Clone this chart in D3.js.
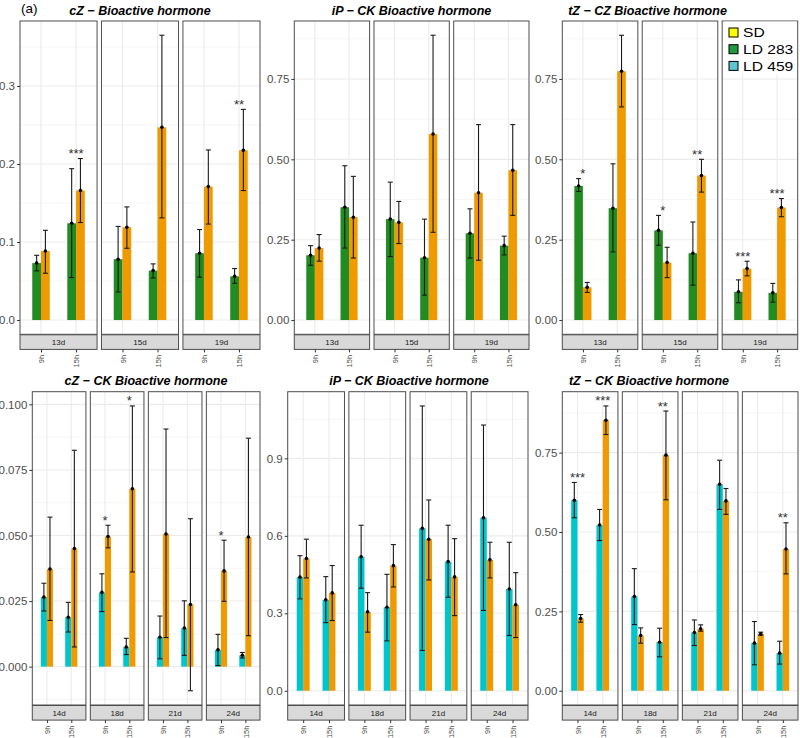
<!DOCTYPE html>
<html>
<head>
<meta charset="utf-8">
<script src="https://cdn.jsdelivr.net/npm/d3@7"></script>
<style>
  body { margin: 0; background: #fff; }
  svg { display: block; font-family: Arial, "Liberation Sans", sans-serif; }
</style>
</head>
<body>
<svg id="fig" width="800" height="738"></svg>
<script>
// ---- data ----
const times = ["9h", "15h"];
const daysTop = ["13d", "15d", "19d"];
const daysBottom = ["14d", "18d", "21d", "24d"];

// rows: day, time, group, mean, low, high
const cZBio = [
  ["13d", "9h", "LD 283", 0.073, 0.063, 0.083],
  ["13d", "9h", "SD", 0.0885, 0.060, 0.115],
  ["13d", "15h", "LD 283", 0.124, 0.0545, 0.194],
  ["13d", "15h", "SD", 0.166, 0.125, 0.207],
  ["15d", "9h", "LD 283", 0.078, 0.036, 0.120],
  ["15d", "9h", "SD", 0.119, 0.092, 0.145],
  ["15d", "15h", "LD 283", 0.0634, 0.054, 0.072],
  ["15d", "15h", "SD", 0.247, 0.131, 0.365],
  ["19d", "9h", "LD 283", 0.0856, 0.055, 0.116],
  ["19d", "9h", "SD", 0.171, 0.123, 0.218],
  ["19d", "15h", "LD 283", 0.056, 0.047, 0.066],
  ["19d", "15h", "SD", 0.2175, 0.166, 0.270]
];
const cZBioStars = [["13d", "15h", "***"], ["19d", "15h", "**"]];

const iPBio = [
  ["13d", "9h", "LD 283", 0.2016, 0.1705, 0.2315],
  ["13d", "9h", "SD", 0.224, 0.183, 0.266],
  ["13d", "15h", "LD 283", 0.351, 0.224, 0.480],
  ["13d", "15h", "SD", 0.320, 0.193, 0.447],
  ["15d", "9h", "LD 283", 0.314, 0.1975, 0.429],
  ["15d", "9h", "SD", 0.304, 0.238, 0.369],
  ["15d", "15h", "LD 283", 0.194, 0.0775, 0.314],
  ["15d", "15h", "SD", 0.579, 0.273, 0.886],
  ["19d", "9h", "LD 283", 0.270, 0.193, 0.346],
  ["19d", "9h", "SD", 0.396, 0.186, 0.608],
  ["19d", "15h", "LD 283", 0.2315, 0.2025, 0.261],
  ["19d", "15h", "SD", 0.466, 0.3256, 0.608]
];
const iPBioStars = [];

const tZBio = [
  ["13d", "9h", "LD 283", 0.417, 0.400, 0.440],
  ["13d", "9h", "SD", 0.102, 0.086, 0.117],
  ["13d", "15h", "LD 283", 0.348, 0.212, 0.486],
  ["13d", "15h", "SD", 0.774, 0.663, 0.886],
  ["15d", "9h", "LD 283", 0.279, 0.2326, 0.3256],
  ["15d", "9h", "SD", 0.179, 0.132, 0.2264],
  ["15d", "15h", "LD 283", 0.208, 0.1085, 0.305],
  ["15d", "15h", "SD", 0.4496, 0.398, 0.500],
  ["19d", "9h", "LD 283", 0.0878, 0.0537, 0.125],
  ["19d", "9h", "SD", 0.160, 0.1375, 0.183],
  ["19d", "15h", "LD 283", 0.0847, 0.0558, 0.114],
  ["19d", "15h", "SD", 0.350, 0.3215, 0.378]
];
const tZBioStars = [["13d", "9h", "*"], ["15d", "9h", "*"], ["15d", "15h", "**"],
                    ["19d", "9h", "***"], ["19d", "15h", "***"]];

const cZCK = [
  ["14d", "9h", "LD 459", 0.0265, 0.0212, 0.0318],
  ["14d", "9h", "SD", 0.0372, 0.0176, 0.057],
  ["14d", "15h", "LD 459", 0.0188, 0.0132, 0.0245],
  ["14d", "15h", "SD", 0.045, 0.0075, 0.0825],
  ["18d", "9h", "LD 459", 0.0283, 0.021, 0.0354],
  ["18d", "9h", "SD", 0.0496, 0.0453, 0.0539],
  ["18d", "15h", "LD 459", 0.0075, 0.0046, 0.0108],
  ["18d", "15h", "SD", 0.0678, 0.0361, 0.0994],
  ["21d", "9h", "LD 459", 0.0112, 0.003, 0.0193],
  ["21d", "9h", "SD", 0.0506, 0.0111, 0.0906],
  ["21d", "15h", "LD 459", 0.0147, 0.0043, 0.0251],
  ["21d", "15h", "SD", 0.0237, -0.0092, 0.0564],
  ["24d", "9h", "LD 459", 0.0064, 0.0004, 0.0123],
  ["24d", "9h", "SD", 0.0365, 0.0249, 0.0482],
  ["24d", "15h", "LD 459", 0.0043, 0.0033, 0.0054],
  ["24d", "15h", "SD", 0.0494, 0.0118, 0.0871]
];
const cZCKStars = [["18d", "9h", "*"], ["18d", "15h", "*"], ["24d", "9h", "*"]];

const iPCK = [
  ["14d", "9h", "LD 459", 0.440, 0.356, 0.523],
  ["14d", "9h", "SD", 0.512, 0.437, 0.587],
  ["14d", "15h", "LD 459", 0.352, 0.264, 0.442],
  ["14d", "15h", "SD", 0.379, 0.272, 0.485],
  ["18d", "9h", "LD 459", 0.519, 0.397, 0.641],
  ["18d", "9h", "SD", 0.3055, 0.227, 0.380],
  ["18d", "15h", "LD 459", 0.3236, 0.1933, 0.451],
  ["18d", "15h", "SD", 0.4845, 0.402, 0.566],
  ["21d", "9h", "LD 459", 0.629, 0.156, 1.103],
  ["21d", "9h", "SD", 0.587, 0.429, 0.739],
  ["21d", "15h", "LD 459", 0.500, 0.362, 0.641],
  ["21d", "15h", "SD", 0.441, 0.291, 0.589],
  ["24d", "9h", "LD 459", 0.670, 0.311, 1.029],
  ["24d", "9h", "SD", 0.507, 0.437, 0.575],
  ["24d", "15h", "LD 459", 0.394, 0.214, 0.575],
  ["24d", "15h", "SD", 0.333, 0.206, 0.4575]
];
const iPCKStars = [];

const tZCK = [
  ["14d", "9h", "LD 459", 0.600, 0.545, 0.656],
  ["14d", "9h", "SD", 0.2275, 0.216, 0.240],
  ["14d", "15h", "LD 459", 0.522, 0.473, 0.571],
  ["14d", "15h", "SD", 0.852, 0.807, 0.897],
  ["18d", "9h", "LD 459", 0.2966, 0.2085, 0.3846],
  ["18d", "9h", "SD", 0.174, 0.150, 0.198],
  ["18d", "15h", "LD 459", 0.153, 0.107, 0.197],
  ["18d", "15h", "SD", 0.742, 0.6016, 0.881],
  ["21d", "9h", "LD 459", 0.1834, 0.1425, 0.223],
  ["21d", "9h", "SD", 0.195, 0.1877, 0.2075],
  ["21d", "15h", "LD 459", 0.650, 0.571, 0.726],
  ["21d", "15h", "SD", 0.598, 0.5556, 0.637],
  ["24d", "9h", "LD 459", 0.150, 0.0818, 0.218],
  ["24d", "9h", "SD", 0.179, 0.175, 0.1845],
  ["24d", "15h", "LD 459", 0.1185, 0.084, 0.156],
  ["24d", "15h", "SD", 0.4465, 0.368, 0.529]
];
const tZCKStars = [["14d", "9h", "***"], ["14d", "15h", "***"], ["18d", "15h", "**"], ["24d", "15h", "**"]];

const ticks01 = [0, 0.1, 0.2, 0.3];
const ticks025 = [0, 0.25, 0.5, 0.75];
const ticks0025 = [0, 0.025, 0.05, 0.075, 0.1];
const ticks03 = [0, 0.3, 0.6, 0.9];

const legendLabels = ["SD", "LD 283", "LD 459"];
const legendColors = ["#FFFF00", "#1E9A3C", "#5FC3D0"];

// ---- drawing ----
const svg = d3.select("#fig");
const fill = d3.scaleOrdinal()
  .domain(["SD", "LD 283", "LD 459"])
  .range(["#EE9A00", "#228B22", "#00C5CD"]);

const charts = [
  { title: "cZ \u2212 Bioactive hormone", rows: cZBio, stars: cZBioStars, days: daysTop,
    ticks: ticks01, fmt: ".1f", x0: 20, x1: 260, top: 21, bottom: 334.3, titleX: 140, titleY: 14.5 },
  { title: "iP \u2212 CK Bioactive hormone", rows: iPBio, stars: iPBioStars, days: daysTop,
    ticks: ticks025, fmt: ".2f", x0: 294.3, x1: 529, top: 21, bottom: 334.3, titleX: 411.5, titleY: 14.5 },
  { title: "tZ \u2212 CZ Bioactive hormone", rows: tZBio, stars: tZBioStars, days: daysTop,
    ticks: ticks025, fmt: ".2f", x0: 562.3, x1: 797.7, top: 21, bottom: 334.3, titleX: 647.5, titleY: 14.5 },
  { title: "cZ \u2212 CK Bioactive hormone", rows: cZCK, stars: cZCKStars, days: daysBottom,
    ticks: ticks0025, fmt: ".3f", x0: 32.3, x1: 260, top: 391.7, bottom: 705, titleX: 146, titleY: 385 },
  { title: "iP \u2212 CK Bioactive hormone", rows: iPCK, stars: iPCKStars, days: daysBottom,
    ticks: ticks03, fmt: ".1f", x0: 287.7, x1: 528, top: 391.7, bottom: 705, titleX: 409, titleY: 385 },
  { title: "tZ \u2212 CK Bioactive hormone", rows: tZCK, stars: tZCKStars, days: daysBottom,
    ticks: ticks025, fmt: ".2f", x0: 562.3, x1: 798, top: 391.7, bottom: 705, titleX: 649, titleY: 385 }
];

svg.append("text")
  .attr("x", 21).attr("y", 13)
  .attr("font-size", 13.5)
  .text("(a)");

charts.forEach(drawChart);
drawLegend();

function drawChart(c) {
  const g = svg.append("g");
  const [lo, hi] = d3.extent(c.rows.flatMap(r => [r[4], r[5], 0]));
  const pad = (hi - lo) * 0.05;
  const y = d3.scaleLinear().domain([lo - pad, hi + pad]).range([c.bottom, c.top]);

  const W = c.x1 - c.x0, n = c.days.length, gap = 4.4;
  const panel = d3.scaleBand().domain(c.days).range([c.x0, c.x1])
    .paddingInner(gap * n / (W + gap)).paddingOuter(0);

  // minor grid between major ticks
  const step = c.ticks[1] - c.ticks[0];
  const minors = d3.range(-1, c.ticks.length + 1)
    .map(k => c.ticks[0] + (k + 0.5) * step)
    .filter(v => v > y.domain()[0] && v < y.domain()[1]);

  g.append("text")
    .attr("x", c.titleX).attr("y", c.titleY)
    .attr("text-anchor", "middle")
    .attr("font-size", 12.5).attr("font-weight", "bold").attr("font-style", "italic")
    .text(c.title);

  const stripH = 14.6;

  c.days.forEach((day, i) => {
    const px = panel(day), pw = panel.bandwidth();
    const x = d3.scalePoint().domain(times).range([px, px + pw]).padding(0.6);
    const bw = x.step() * 0.25;
    const pg = g.append("g");

    pg.append("rect").attr("x", px).attr("y", c.top).attr("width", pw)
      .attr("height", c.bottom - c.top).attr("fill", "#fff");

    pg.selectAll("line.minor").data(minors).join("line")
      .attr("x1", px).attr("x2", px + pw)
      .attr("y1", d => y(d)).attr("y2", d => y(d))
      .attr("stroke", "#F2F2F2").attr("stroke-width", 0.7);

    pg.selectAll("line.major").data(c.ticks).join("line")
      .attr("x1", px).attr("x2", px + pw)
      .attr("y1", d => y(d)).attr("y2", d => y(d))
      .attr("stroke", "#EBEBEB").attr("stroke-width", 1.1);

    pg.selectAll("line.vgrid").data(times).join("line")
      .attr("x1", d => x(d)).attr("x2", d => x(d))
      .attr("y1", c.top).attr("y2", c.bottom)
      .attr("stroke", "#EBEBEB").attr("stroke-width", 1.1);

    const rows = c.rows.filter(r => r[0] === day);
    const dx = r => (r[2] === "SD" ? bw / 2 : -bw / 2);

    pg.selectAll("rect.bar").data(rows).join("rect")
      .attr("x", r => x(r[1]) + dx(r) - bw / 2)
      .attr("y", r => y(r[3]))
      .attr("width", bw)
      .attr("height", r => y(0) - y(r[3]))
      .attr("fill", r => fill(r[2]));

    const eb = pg.selectAll("g.err").data(rows).join("g")
      .attr("stroke", "#1a1a1a").attr("stroke-width", 1.1);
    eb.append("line")
      .attr("x1", r => x(r[1]) + dx(r)).attr("x2", r => x(r[1]) + dx(r))
      .attr("y1", r => y(r[4])).attr("y2", r => y(r[5]));
    eb.append("line")
      .attr("x1", r => x(r[1]) + dx(r) - 2.5).attr("x2", r => x(r[1]) + dx(r) + 2.5)
      .attr("y1", r => y(r[4])).attr("y2", r => y(r[4]));
    eb.append("line")
      .attr("x1", r => x(r[1]) + dx(r) - 2.5).attr("x2", r => x(r[1]) + dx(r) + 2.5)
      .attr("y1", r => y(r[5])).attr("y2", r => y(r[5]));

    pg.selectAll("circle").data(rows).join("circle")
      .attr("cx", r => x(r[1]) + dx(r)).attr("cy", r => y(r[3]))
      .attr("r", 1.8).attr("fill", "#000");

    const stars = c.stars.filter(s => s[0] === day);
    pg.selectAll("text.star").data(stars).join("text")
      .attr("x", s => x(s[1]))
      .attr("y", s => y(d3.max(rows.filter(r => r[1] === s[1]), r => r[5])) - 0.5)
      .attr("text-anchor", "middle").attr("font-size", 13).attr("fill", "#333")
      .text(s => s[2]);

    pg.append("rect").attr("x", px).attr("y", c.top).attr("width", pw)
      .attr("height", c.bottom - c.top)
      .attr("fill", "none").attr("stroke", "#4d4d4d").attr("stroke-width", 1);

    // strip at bottom
    pg.append("rect").attr("x", px).attr("y", c.bottom + 0.5).attr("width", pw)
      .attr("height", stripH)
      .attr("fill", "#D9D9D9").attr("stroke", "#4d4d4d").attr("stroke-width", 1);
    pg.append("text")
      .attr("x", px + pw / 2).attr("y", c.bottom + 0.5 + stripH / 2)
      .attr("dy", "0.35em").attr("text-anchor", "middle")
      .attr("font-size", 8).attr("fill", "#1a1a1a")
      .text(day);

    // x axis under the strip
    const xa = pg.append("g")
      .attr("transform", `translate(0,${c.bottom + 0.5 + stripH})`)
      .call(d3.axisBottom(x).tickSize(3));
    xa.select(".domain").remove();
    xa.selectAll(".tick line").attr("stroke", "#333");
    xa.selectAll(".tick text")
      .attr("transform", "rotate(-90)")
      .attr("text-anchor", "end")
      .attr("x", -5.5).attr("y", 0).attr("dy", "0.35em")
      .attr("font-size", 7.5).attr("fill", "#4d4d4d")
      .attr("font-family", null);

    if (i === 0) {
      const ya = pg.append("g")
        .attr("transform", `translate(${px},0)`)
        .call(d3.axisLeft(y).tickValues(c.ticks).tickFormat(d3.format(c.fmt))
          .tickSize(3).tickPadding(2));
      ya.select(".domain").remove();
      ya.selectAll(".tick line").attr("stroke", "#333");
      ya.selectAll(".tick text")
        .attr("font-size", 11.5).attr("fill", "#4d4d4d")
        .attr("font-family", null);
    }
  });
}

function drawLegend() {
  const lg = svg.append("g");
  lg.append("rect").attr("x", 723.5).attr("y", 21.5).attr("width", 73.5).attr("height", 53)
    .attr("fill", "#fff");
  const item = lg.selectAll("g.item").data(legendLabels).join("g")
    .attr("transform", (d, i) => `translate(729,${32.5 + i * 16.7})`);
  item.append("rect")
    .attr("x", 0).attr("y", -4.5).attr("width", 9).attr("height", 9)
    .attr("fill", (d, i) => legendColors[i])
    .attr("stroke", "#000").attr("stroke-width", 1);
  item.append("text")
    .attr("transform", "translate(14,4.6) scale(1.25,1)")
    .attr("font-size", 12.5).attr("fill", "#000")
    .text(d => d);
}
</script>
</body>
</html>
